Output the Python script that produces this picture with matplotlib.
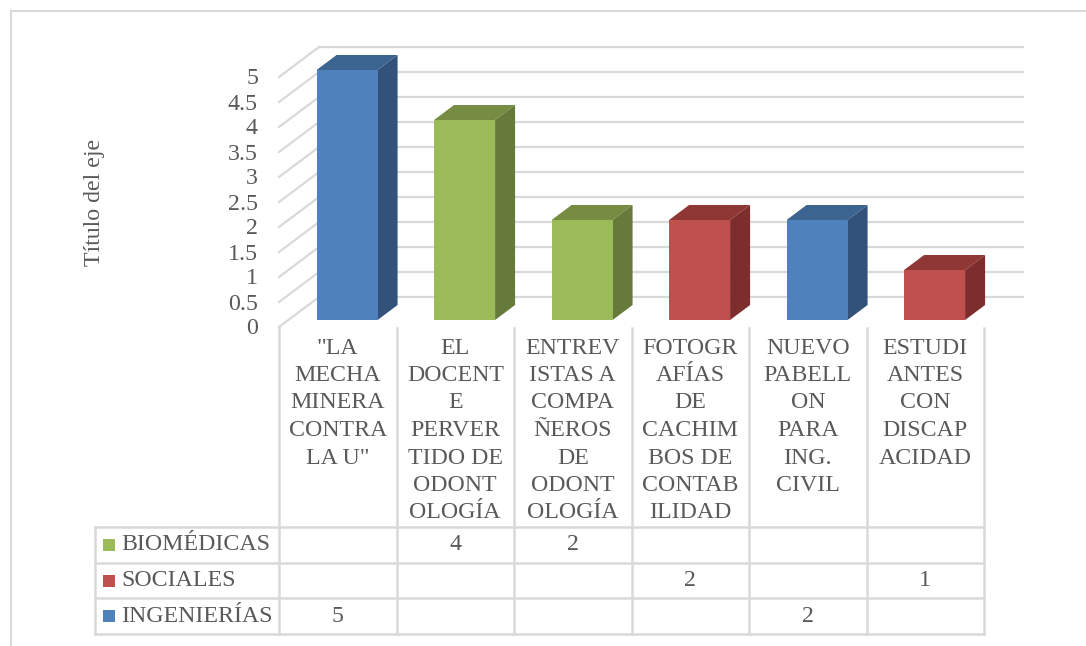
import matplotlib
matplotlib.use("Agg")
import matplotlib.pyplot as plt
from matplotlib.patches import Polygon, Rectangle

# ---------------- data ----------------
categories = [
    '"LA\nMECHA\nMINERA\nCONTRA\nLA U"',
    'EL\nDOCENT\nE\nPERVER\nTIDO DE\nODONT\nOLOGÍA',
    'ENTREV\nISTAS A\nCOMPA\nÑEROS\nDE\nODONT\nOLOGÍA',
    'FOTOGR\nAFÍAS\nDE\nCACHIM\nBOS DE\nCONTAB\nILIDAD',
    'NUEVO\nPABELL\nON\nPARA\nING.\nCIVIL',
    'ESTUDI\nANTES\nCON\nDISCAP\nACIDAD',
]
series_names = ['BIOMÉDICAS', 'SOCIALES', 'INGENIERÍAS']
biomedicas = [None, 4, 2, None, None, None]
sociales = [None, None, None, 2, None, 1]
ingenierias = [5, None, None, None, 2, None]
series_values = [biomedicas, sociales, ingenierias]
yticks = [0, 0.5, 1, 1.5, 2, 2.5, 3, 3.5, 4, 4.5, 5]
ytick_labels = ['0', '0.5', '1', '1.5', '2', '2.5', '3', '3.5', '4', '4.5', '5']
axis_title = 'Título del eje'

# ---------------- style ----------------
front_cols = ['#9BBB59', '#C0504D', '#4F81BD']
top_cols = ['#768C42', '#8F3734', '#3C6491']
side_cols = ['#667A3A', '#7D2E2C', '#32527A']
grid_col = '#D9D9D9'
txt_col = '#595959'
FONT = 'Liberation Serif'
FS = 17.2

W, H = 1086, 646
fig = plt.figure(figsize=(W / 100, H / 100), dpi=100)
ax = fig.add_axes([0, 0, 1, 1])
ax.set_axis_off()

# mapping: category -0.5 -> px 279, 117.5 px per category; value 0 -> py 327, 50 px per unit
CW, X0 = 117.5, 279.0
VU, Y0 = 50.0, 327.0
ax.set_xlim(-0.5 - X0 / CW, -0.5 + (W - X0) / CW)
ax.set_ylim(-(H - Y0) / VU, Y0 / VU)


def px(p):
    return (p - X0) / CW - 0.5


def py(p):
    return (Y0 - p) / VU


n = len(categories)
Dx, Dy = 40 / CW, 30 / VU       # full depth of the floor
d0, dd = 7 / 30, 0.5            # bar front depth fraction, bar depth fraction
bw = 61 / CW                     # bar front width

# back wall and side wall gridlines
for v, lab in zip(yticks, ytick_labels):
    ax.plot([-0.5 + Dx, n - 0.5 + Dx], [v + Dy, v + Dy], color=grid_col, lw=1.6,
            solid_capstyle='butt', zorder=1)
    ax.plot([-0.5, -0.5 + Dx], [v, v + Dy], color=grid_col, lw=1.6, zorder=1)
    ax.text(px(258), v - 0.04, lab, ha='right', va='center',
            fontsize=FS, family=FONT, color=txt_col)

# bars
for s, vals in enumerate(series_values):
    for i, v in enumerate(vals):
        if v is None:
            continue
        xl = i - bw / 2 + d0 * Dx
        xr = i + bw / 2 + d0 * Dx
        yb = d0 * Dy
        yt = v + d0 * Dy
        ox, oy = dd * Dx, dd * Dy
        ax.add_patch(Polygon([(xl, yt), (xr, yt), (xr + ox, yt + oy), (xl + ox, yt + oy)],
                             closed=True, fc=top_cols[s], ec='none', zorder=3))
        ax.add_patch(Polygon([(xr, yb), (xr + ox, yb + oy), (xr + ox, yt + oy), (xr, yt)],
                             closed=True, fc=side_cols[s], ec='none', zorder=3))
        ax.add_patch(Rectangle((xl, yb), xr - xl, yt - yb, fc=front_cols[s], ec='none',
                               zorder=4))

# axis title
ax.text(px(94), py(202), axis_title, rotation=90, ha='center', va='center',
        fontsize=FS, family=FONT, color=txt_col)

# data table
t_top, row_h = 527, 35.7
row_lines = [t_top + k * row_h for k in range(4)]
lw_t = 1.8
for k, yy in enumerate(row_lines):
    ax.plot([px(95), n - 0.5], [py(yy), py(yy)], color=grid_col, lw=lw_t, zorder=1)
ax.plot([px(95), px(95)], [py(row_lines[0]), py(row_lines[-1])], color=grid_col, lw=lw_t)
for k in range(n + 1):
    ax.plot([k - 0.5, k - 0.5], [py(328), py(row_lines[-1])], color=grid_col, lw=lw_t)

# category labels
for i, cat in enumerate(categories):
    for j, line in enumerate(cat.split('\n')):
        ax.text(i, py(348 + 27.5 * j), line, ha='center', va='center', fontsize=FS,
                family=FONT, color=txt_col)

# table rows: legend keys, names, values
for s, name in enumerate(series_names):
    yc = py(row_lines[s] + row_h / 2)
    ax.add_patch(Rectangle((px(103), yc - 6 / VU), 12 / CW, 12 / VU, fc=front_cols[s],
                           ec='none'))
    ax.text(px(121), yc, name, ha='left', va='center', fontsize=FS, family=FONT,
            color=txt_col)
    for i, v in enumerate(series_values[s]):
        if v is not None:
            ax.text(i, yc, f'{v:g}', ha='center', va='center', fontsize=FS, family=FONT,
                    color=txt_col)

# chart area border (top & left visible)
ax.plot([px(11), px(W)], [py(11), py(11)], color=grid_col, lw=1.5)
ax.plot([px(11), px(11)], [py(11), py(H)], color=grid_col, lw=1.5)

fig.savefig('out.png', dpi=100)
